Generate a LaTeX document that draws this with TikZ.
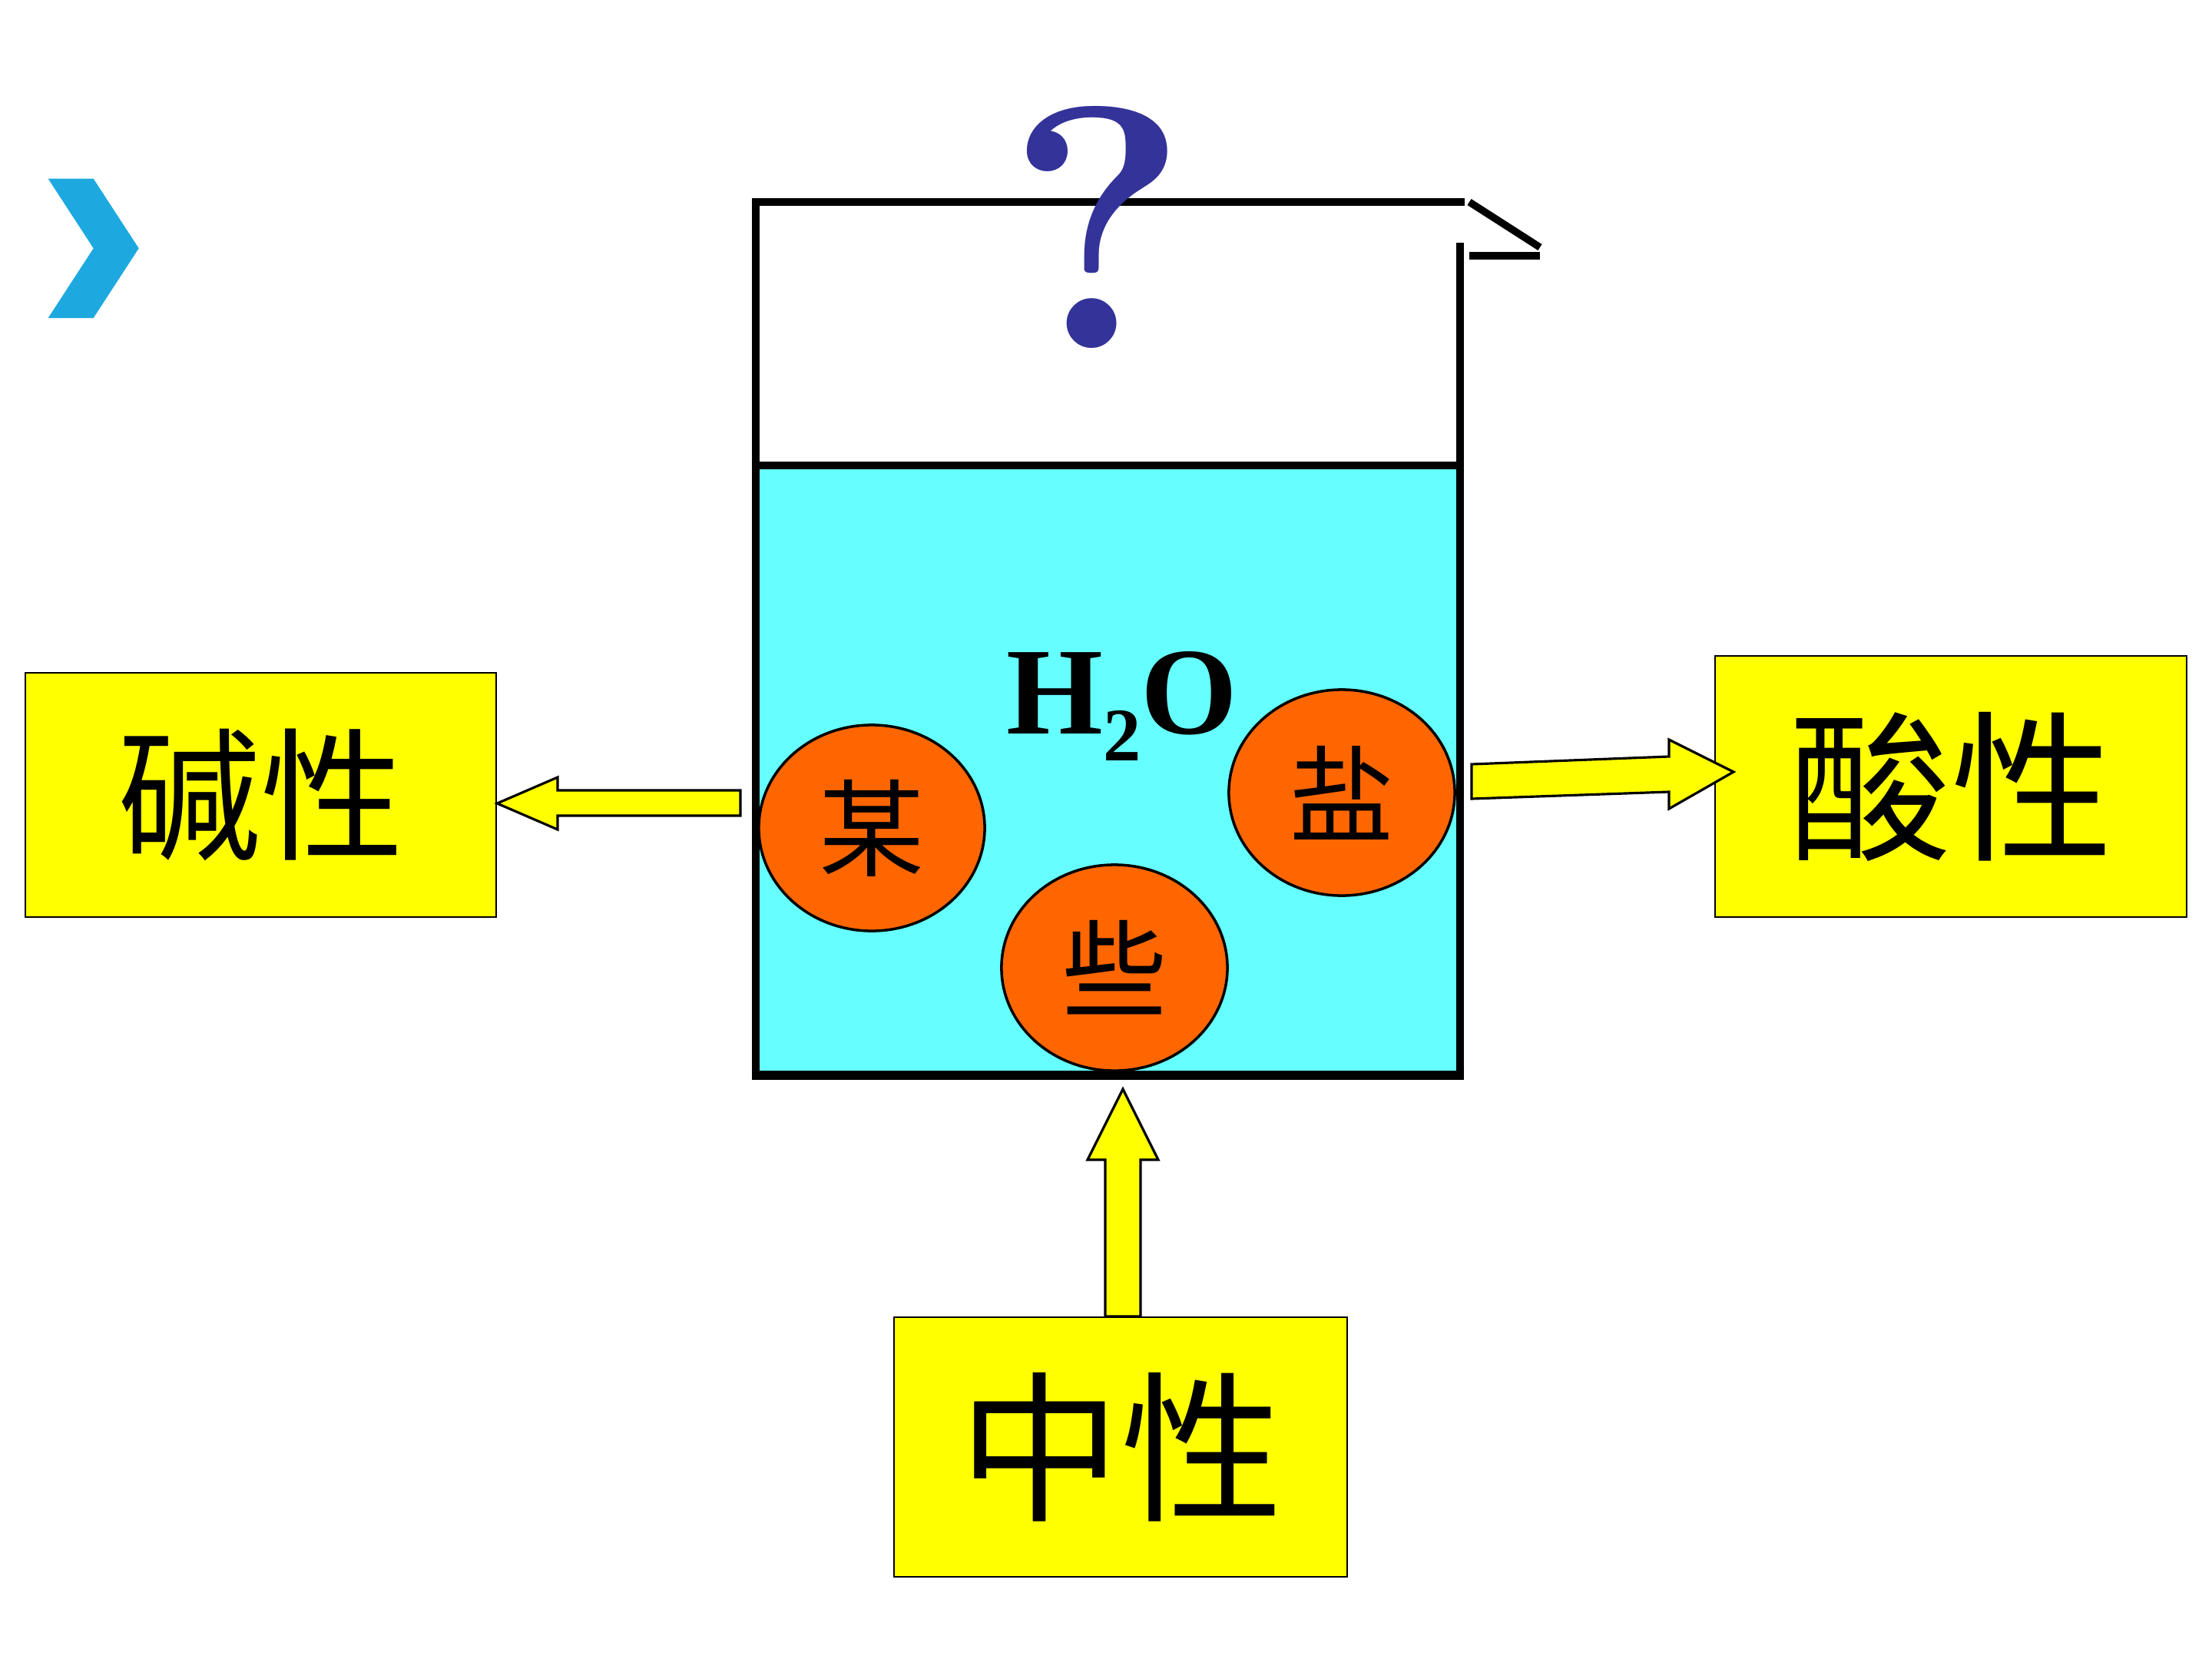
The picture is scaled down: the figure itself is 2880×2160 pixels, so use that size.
\documentclass[tikz,border=0pt]{standalone}
\usepackage{fontspec}
\newfontfamily\lmr{Latin Modern Roman}
\setmainfont{Liberation Serif}
\newfontfamily\cjk{Noto Sans CJK SC}
\usetikzlibrary{shapes.geometric}
\definecolor{saltorange}{HTML}{FF6600}
\definecolor{water}{HTML}{66FFFF}
\definecolor{qblue}{HTML}{333399}
\definecolor{chev}{HTML}{1DA9E0}
\definecolor{byellow}{HTML}{FFFF00}
\begin{document}
\begin{tikzpicture}[x=0.01cm,y=-0.01cm,
  ybox/.style={draw=black, line width=0.6pt, fill=byellow, inner sep=0pt},
  salt/.style={ellipse, draw=black, line width=1pt, fill=saltorange, inner sep=0pt,
    minimum width=2.94cm, minimum height=2.68cm, font=\cjk\fontsize{39}{39}\selectfont},
  wall/.style={line width=2.7pt, line cap=rect},
  blockarrow/.style={draw=black, line width=0.9pt, fill=byellow, line join=miter}]
\fill[white] (0,0) rectangle (2880,2160);
\useasboundingbox (0,0) rectangle (2880,2160);

% chevron
\fill[chev] (62.7,232.7) -- (121.7,232.7) -- (180.7,323.3) -- (121.7,414) -- (62.7,414) -- (121.7,323.3) -- cycle;

% beaker water
\fill[water] (984,606) rectangle (1901,1400);
\draw[wall] (984,1400) -- (984,263) -- (1902,263);
\draw[wall, line cap=butt] (1901,316) -- (1901,1400);
\draw[wall, line cap=butt] (1913,263) -- (2005,322);
\draw[wall, line cap=butt] (1913,333) -- (2005,333);
\draw[wall, line cap=butt] (984,606) -- (1901,606);
\draw[line width=3.2pt] (979,1400) -- (1906,1400);

% question mark
\node[text=qblue, font=\lmr\bfseries\fontsize{128}{128}\selectfont, inner sep=0pt] (q) at (1429,296) {?};

% H2O
\node[anchor=base, font=\fontsize{46}{46}\selectfont\bfseries, inner sep=0pt] (h2o) at (1461,955)
  {H\raisebox{-0.22em}{\fontsize{28}{28}\selectfont 2}O};

% salt particles
\node[salt] (mou) at (1135,1078) {某};
\node[salt] (xie) at (1451,1260) {些};
\node[salt] (yan) at (1747,1032) {盐};

% boxes
\node[ybox, minimum width=6.13cm, minimum height=3.18cm, font=\cjk\fontsize{53}{53}\selectfont] (jian) at (339.5,1035) {碱性};
\node[ybox, minimum width=6.14cm, minimum height=3.40cm, font=\cjk\fontsize{60}{60}\selectfont] (suan) at (2540,1024) {酸性};
\node[ybox, minimum width=5.90cm, minimum height=3.38cm, font=\cjk\fontsize{60}{60}\selectfont] (zhong) at (1459,1884) {中性};

% block arrows
\draw[blockarrow] (964,1029) -- (726,1029) -- (726,1012) -- (jian.east |- 0,1046) -- (726,1080) -- (726,1062) -- (964,1062) -- cycle;
\draw[blockarrow] (1916,995) -- (2173,985) -- (2173,963) -- (2257,1005) -- (2173,1053) -- (2173,1031) -- (1916,1040) -- cycle;
\draw[blockarrow] (1439,0 |- zhong.north) -- (1439,1510) -- (1416,1510) -- (1462,1418) -- (1508,1510) -- (1485,1510) -- (1485,0 |- zhong.north) -- cycle;
\end{tikzpicture}
\end{document}
